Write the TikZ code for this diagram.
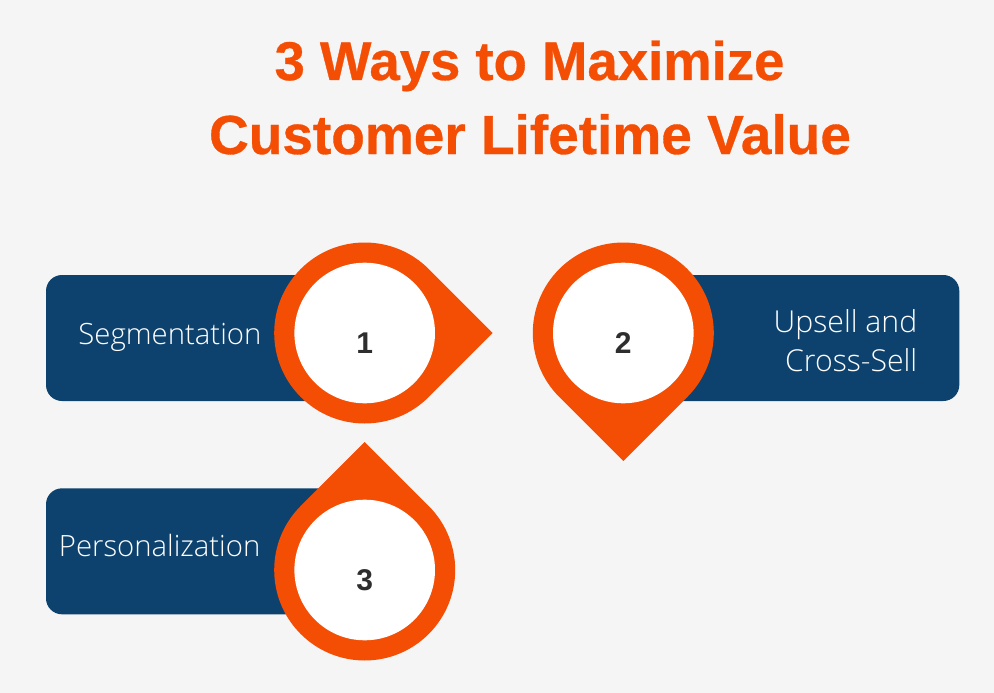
\documentclass[tikz,border=0pt]{standalone}
\usepackage{fontspec}
\setmainfont{Open Sans Light}
\newfontfamily\titlefont[BoldFeatures={FakeBold=0.6}]{Liberation Sans}
\newfontfamily\numfont{Liberation Sans}
\definecolor{bgc}{HTML}{F5F5F5}
\definecolor{pinc}{HTML}{F44D04}
\definecolor{boxc}{HTML}{0D426E}
\definecolor{numc}{HTML}{2E2E2E}
\tikzset{
  x=1pt,y=-1pt,
  pin/.style={fill=pinc,draw=none},
  face/.style={circle,fill=white,draw=none,minimum size=140.6pt,inner sep=0pt},
  bar/.style={fill=boxc,draw=none,rounded corners=16pt,inner sep=0pt},
  title/.style={text=pinc,font=\titlefont\bfseries\fontsize{55}{60}\selectfont,anchor=base,inner sep=0pt},
  label/.style={text=white,font=\fontsize{29.3}{39}\selectfont,anchor=base east,inner sep=0pt},
  labelwide/.style={label,font=\fontsize{30.2}{39}\selectfont},
  num/.style={text=numc,font=\numfont\bfseries\fontsize{30}{32}\selectfont,anchor=base,inner sep=0pt}
}
\begin{document}
\begin{tikzpicture}
\path[use as bounding box,fill=bgc] (0,0) rectangle (994,693);
\node[title,font=\titlefont\bfseries\fontsize{54.5}{60}\selectfont] (t1) at (529.5,80) {3 Ways to Maximize};
\node[title] (t2) at (530,154) {Customer Lifetime Value};
% bars
\node[bar,minimum width=290pt,minimum height=126pt] (b1) at (191,338) {};
\node[bar,minimum width=300pt,minimum height=126pt] (b2) at (809.3,338) {};
\node[bar,minimum width=290pt,minimum height=126pt] (b3) at (191,551.3) {};
% pins: the tip of each lies at radius*sqrt(2) from its centre
\fill[pin] (364.7,333) ++(45:90.5) arc[start angle=45,end angle=315,radius=90.5] -- (492.7,333) -- cycle;
\fill[pin] (623.3,333) ++(135:90.5) arc[start angle=135,end angle=405,radius=90.5] -- (623.3,461) -- cycle;
\fill[pin] (364.7,570) ++(-45:90.5) arc[start angle=-45,end angle=225,radius=90.5] -- (364.7,442) -- cycle;
% faces
\node[face] (f1) at (364.7,333) {};
\node[face] (f2) at (623.3,333) {};
\node[face] (f3) at (364.7,570) {};
\node[num] (n1) at (364.7,353.5) {1};
\node[num] (n2) at (623.3,353.5) {2};
\node[num] (n3) at (364.7,590.5) {3};
\node[label] (l1) at (261.5,344) {Segmentation};
\node[labelwide] (l2a) at (917.5,332) {Upsell and};
\node[labelwide] (l2b) at (917.5,371) {Cross-Sell};
\node[label] (l3) at (260.5,556) {Personalization};
\end{tikzpicture}
\end{document}
